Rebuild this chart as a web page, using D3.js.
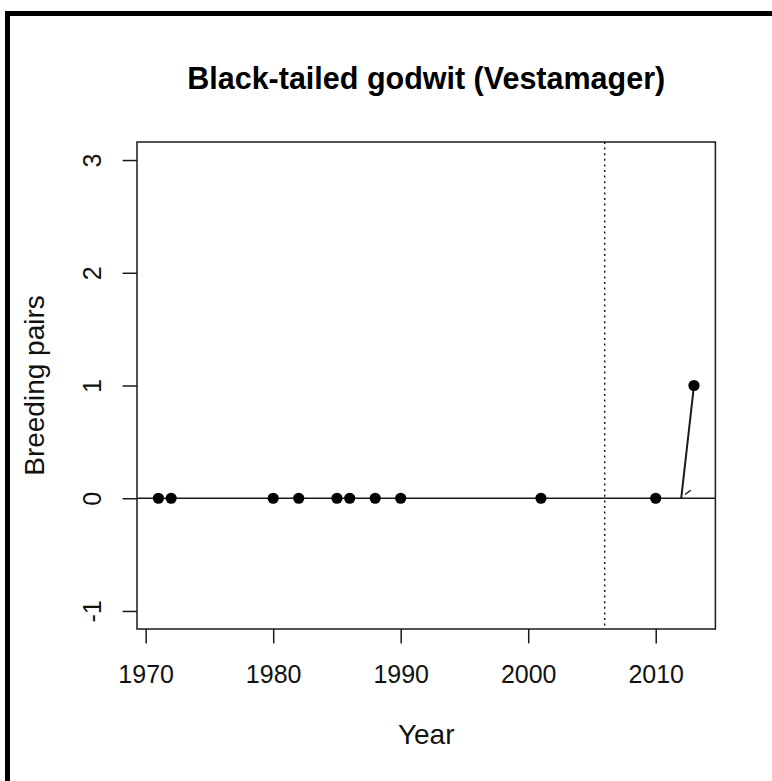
<!DOCTYPE html>
<html>
<head>
<meta charset="utf-8">
<script src="https://cdn.jsdelivr.net/npm/d3@7"></script>
<style>
  html, body { margin: 0; padding: 0; background: #fff; }
  svg { display: block; font-family: "Liberation Sans", Arial, sans-serif; }
</style>
</head>
<body>
<svg id="chart" width="772" height="781"></svg>
<script>
// Breeding pairs of black-tailed godwit counted at Vestamager
const years = [1971, 1972, 1980, 1982, 1985, 1986, 1988, 1990, 2001, 2010, 2013];
const pairs = [0, 0, 0, 0, 0, 0, 0, 0, 0, 0, 1];
const xTicks = [1970, 1980, 1990, 2000, 2010];
const yTicks = [-1, 0, 1, 2, 3];
const markerYear = 2006;            // dotted reference line
const trendFrom = [2013, 1];        // segment drawn from the last count
const trendTo = [2012, 0];
const barbFrom = [2012.3, 0.033];
const barbTo = [2012.75, 0.071];
const titleText = "Black-tailed godwit (Vestamager)";
const xLabel = "Year";
const yLabel = "Breeding pairs";

const svg = d3.select("#chart");
const ink = "#1a1a1a";
const fontFam = "'Liberation Sans', Arial, sans-serif";

// outer frame (top and left edges visible)
svg.append("rect")
  .attr("x", 7.5).attr("y", 13.5)
  .attr("width", 800).attr("height", 800)
  .attr("fill", "none").attr("stroke", "#000").attr("stroke-width", 5);

// plot region, padded 4% beyond the data like base R graphics
const plot = { left: 137, right: 715.4, top: 142, bottom: 629 };
const xExt = d3.extent(years), xPad = (xExt[1] - xExt[0]) * 0.04;
const yLim = [-1, 3], yPad = (yLim[1] - yLim[0]) * 0.04;
const x = d3.scaleLinear().domain([xExt[0] - xPad, xExt[1] + xPad]).range([plot.left, plot.right]);
const y = d3.scaleLinear().domain([yLim[0] - yPad, yLim[1] + yPad]).range([plot.bottom, plot.top]);

const tickLen = 14.4;
const tickFont = 25;
const labelFont = 28;

// x axis
const gx = svg.append("g")
  .attr("transform", `translate(0,${plot.bottom})`)
  .call(d3.axisBottom(x).tickValues(xTicks).tickFormat(d3.format("d")).tickSize(tickLen).tickPadding(22));
gx.select(".domain").remove();
gx.selectAll("line").attr("stroke", ink).attr("stroke-width", 1.5);
gx.selectAll("text").attr("font-size", tickFont).attr("fill", "#111")
  .style("font-family", fontFam);

// y axis with labels running parallel to the axis
const gy = svg.append("g")
  .attr("transform", `translate(${plot.left},0)`)
  .call(d3.axisLeft(y).tickValues(yTicks).tickFormat(d3.format("d")).tickSize(tickLen));
gy.select(".domain").remove();
gy.selectAll("line").attr("stroke", ink).attr("stroke-width", 1.5);
gy.selectAll("text")
  .attr("x", null).attr("dy", null)
  .attr("text-anchor", "middle")
  .attr("transform", "translate(-36,0) rotate(-90)")
  .attr("font-size", tickFont).attr("fill", "#111")
  .style("font-family", fontFam)
  .text(d => d3.format("d")(d).replace("−", "-"));

// plot box
svg.append("rect")
  .attr("x", plot.left).attr("y", plot.top)
  .attr("width", plot.right - plot.left).attr("height", plot.bottom - plot.top)
  .attr("fill", "none").attr("stroke", ink).attr("stroke-width", 1.5);

// horizontal zero line
svg.append("line")
  .attr("x1", plot.left).attr("x2", plot.right)
  .attr("y1", y(0)).attr("y2", y(0))
  .attr("stroke", ink).attr("stroke-width", 1.5);

// dotted vertical marker
svg.append("line")
  .attr("x1", x(markerYear)).attr("x2", x(markerYear))
  .attr("y1", plot.top).attr("y2", plot.bottom)
  .attr("stroke", ink).attr("stroke-width", 1.5)
  .attr("stroke-dasharray", "2,3.6");

// segment from last count
svg.append("line")
  .attr("x1", x(trendFrom[0])).attr("y1", y(trendFrom[1]))
  .attr("x2", x(trendTo[0])).attr("y2", y(trendTo[1]))
  .attr("stroke", ink).attr("stroke-width", 2);
svg.append("line")
  .attr("x1", x(barbFrom[0])).attr("y1", y(barbFrom[1]))
  .attr("x2", x(barbTo[0])).attr("y2", y(barbTo[1]))
  .attr("stroke", ink).attr("stroke-width", 1.5);

// counts
svg.append("g").selectAll("circle")
  .data(years.map((yr, i) => ({ yr, v: pairs[i] })))
  .join("circle")
  .attr("cx", d => x(d.yr)).attr("cy", d => y(d.v))
  .attr("r", 5.6).attr("fill", "#000");

// title and axis labels
const cx = (plot.left + plot.right) / 2;
svg.append("text")
  .attr("x", cx).attr("y", 89)
  .attr("text-anchor", "middle")
  .attr("font-size", 30.5).attr("font-weight", "bold").attr("fill", "#000")
  .text(titleText);
svg.append("text")
  .attr("x", cx).attr("y", 744)
  .attr("text-anchor", "middle")
  .attr("font-size", labelFont).attr("fill", "#111")
  .text(xLabel);
svg.append("text")
  .attr("transform", `translate(44,${(plot.top + plot.bottom) / 2}) rotate(-90)`)
  .attr("text-anchor", "middle")
  .attr("font-size", labelFont).attr("fill", "#111")
  .text(yLabel);
</script>
</body>
</html>
